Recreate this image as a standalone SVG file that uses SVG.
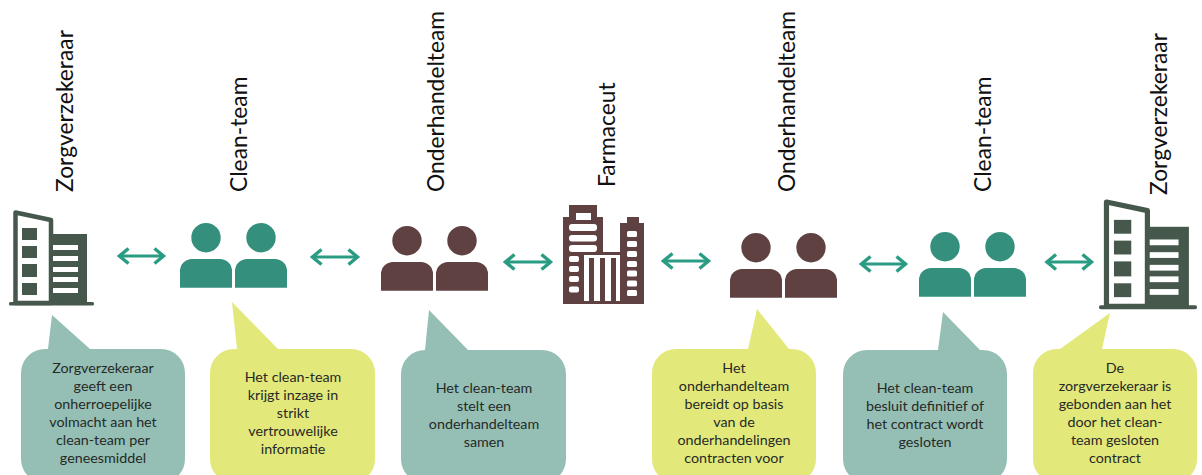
<svg xmlns="http://www.w3.org/2000/svg" xmlns:xlink="http://www.w3.org/1999/xlink" width="1202" height="475" viewBox="0 0 1202 475">
<style>
.title{font-family:"Lato","Liberation Sans",sans-serif;font-size:22.800px;fill:#111}
.txt{font-family:"Lato","Liberation Sans",sans-serif;font-size:14.300px;fill:#262a27;text-anchor:middle}
.arrow{stroke:#2a9c83;stroke-width:3.200;fill:none;marker-start:url(#head);marker-end:url(#head)}
.g{fill:#95bfb4}.y{fill:#e3e87a}.teal{fill:#34907c}.brown{fill:#5f4142}.dk{fill:#45584b}.w{fill:#fff}
</style>
<defs>
<marker id="head" viewBox="0 0 16 20" refX="13" refY="10" markerWidth="16" markerHeight="20" markerUnits="userSpaceOnUse" orient="auto-start-reverse"><path d="M4 2.500L13 10L4 17.500" fill="none" stroke="#2a9c83" stroke-width="3.400"/></marker>
<g id="people"><circle cx="26" cy="14.7" r="14.7"/><circle cx="81" cy="14.7" r="14.7"/><path d="M0 64.700V48a12 12 0 0 1 12-12H40a12 12 0 0 1 12 12V64.700Z"/><path d="M55 64.700V48a12 12 0 0 1 12-12H95a12 12 0 0 1 12 12V64.700Z"/></g>
<g id="office">
<rect class="dk" x="50" y="234" width="37" height="70"/>
<path d="M15.500 212.500L51 220V303H15.500Z" fill="#fff" stroke="#45584b" stroke-width="4.500" stroke-linejoin="round"/>
<rect class="dk" x="9" y="302" width="85" height="3.500" rx="1.500"/>
<g class="dk"><rect x="22" y="228" width="15" height="12"/><rect x="22" y="246" width="15" height="12"/><rect x="22" y="264" width="15" height="13"/><rect x="22" y="283" width="15" height="12"/></g>
<g class="w"><rect x="53" y="245" width="25" height="5"/><rect x="53" y="256" width="25" height="5"/><rect x="53" y="267" width="25" height="5"/><rect x="53" y="277" width="25" height="5"/><rect x="53" y="288" width="25" height="5"/></g>
</g>
</defs>
<g id="connectors">
<line class="arrow" x1="119.500" y1="256" x2="163.500" y2="256"/>
<line class="arrow" x1="312.500" y1="257" x2="357.500" y2="257"/>
<line class="arrow" x1="505.500" y1="262" x2="550.500" y2="262"/>
<line class="arrow" x1="663.500" y1="261" x2="708.500" y2="261"/>
<line class="arrow" x1="861.500" y1="264" x2="905.500" y2="264"/>
<line class="arrow" x1="1047" y1="262" x2="1091.500" y2="262"/>
</g>
<g id="node-zorgverzekeraar-1">
<use xlink:href="#office" href="#office"/>
<text class="title" transform="translate(73 192) rotate(-90)">Zorgverzekeraar</text>
<path class="g" d="M52 315L48 349H45a24 24 0 0 0-24 24V459a24 24 0 0 0 24 24H161a24 24 0 0 0 24-24V373a24 24 0 0 0-24-24H90Z"/>
<text class="txt"><tspan x="103" y="373">Zorgverzekeraar</tspan><tspan x="103" y="391">geeft een</tspan><tspan x="103" y="409">onherroepelijke</tspan><tspan x="103" y="427">volmacht aan het</tspan><tspan x="103" y="445">clean-team per</tspan><tspan x="103" y="463">geneesmiddel</tspan></text>
</g>
<g id="node-clean-team-1">
<use class="teal" xlink:href="#people" href="#people" x="180" y="223"/>
<text class="title" transform="translate(247 192) rotate(-90)">Clean-team</text>
<path class="y" d="M232 302L237 349H234a24 24 0 0 0-24 24V459a24 24 0 0 0 24 24H351a24 24 0 0 0 24-24V373a24 24 0 0 0-24-24H278Z"/>
<text class="txt"><tspan x="293" y="382">Het clean-team</tspan><tspan x="293" y="400">krijgt inzage in</tspan><tspan x="293" y="418">strikt</tspan><tspan x="293" y="436">vertrouwelijke</tspan><tspan x="293" y="454">informatie</tspan></text>
</g>
<g id="node-onderhandelteam-1">
<use class="brown" xlink:href="#people" href="#people" x="381" y="226"/>
<text class="title" transform="translate(444 192) rotate(-90)">Onderhandelteam</text>
<path class="g" d="M429 310L425 350a24 24 0 0 0-24 24V459a24 24 0 0 0 24 24H542a24 24 0 0 0 24-24V374a24 24 0 0 0-24-24H468Z"/>
<text class="txt"><tspan x="484" y="393">Het clean-team</tspan><tspan x="484" y="411">stelt een</tspan><tspan x="484" y="429">onderhandelteam</tspan><tspan x="484" y="447">samen</tspan></text>
</g>
<g id="node-farmaceut">
<path class="brown" d="M569 205H597V217H603V252H620V223H627V217H639V223H644V304H563V217H569Z"/>
<rect class="w" x="576" y="213" width="15" height="7"/>
<g class="w"><rect x="569" y="224" width="28" height="7" rx="3"/><rect x="569" y="235" width="28" height="6.500" rx="3"/><rect x="569" y="245" width="28" height="7" rx="3"/>
<rect x="569" y="256" width="10" height="6" rx="2"/><rect x="569" y="266" width="10" height="6" rx="2"/><rect x="569" y="276" width="10" height="6" rx="2"/><rect x="569" y="286.500" width="10" height="6" rx="2"/>
<rect x="627" y="231" width="10" height="6" rx="1.500"/><rect x="627" y="241" width="10" height="6" rx="1.500"/><rect x="627" y="251" width="10" height="6" rx="1.500"/><rect x="627" y="261" width="10" height="6" rx="1.500"/><rect x="627" y="270.500" width="10" height="6" rx="1.500"/><rect x="627" y="280.500" width="10" height="6" rx="1.500"/><rect x="627" y="290" width="10" height="6" rx="1.500"/>
<rect x="584" y="255" width="36" height="46"/></g>
<g class="brown"><rect x="589" y="258" width="5" height="43"/><rect x="600" y="258" width="5" height="43"/><rect x="611" y="258" width="5" height="43"/></g>
<text class="title" transform="translate(615 187) rotate(-90)">Farmaceut</text>
</g>
<g id="node-onderhandelteam-2">
<use class="brown" xlink:href="#people" href="#people" x="730" y="233"/>
<text class="title" transform="translate(795 192) rotate(-90)">Onderhandelteam</text>
<path class="y" d="M757 309L748 349H676a24 24 0 0 0-24 24V459a24 24 0 0 0 24 24H792a24 24 0 0 0 24-24V373a24 24 0 0 0-24-24H789Z"/>
<text class="txt"><tspan x="734" y="373">Het</tspan><tspan x="734" y="391">onderhandelteam</tspan><tspan x="734" y="409">bereidt op basis</tspan><tspan x="734" y="427">van de</tspan><tspan x="734" y="445">onderhandelingen</tspan><tspan x="734" y="463">contracten voor</tspan></text>
</g>
<g id="node-clean-team-2">
<use class="teal" xlink:href="#people" href="#people" x="919" y="232"/>
<text class="title" transform="translate(991 192) rotate(-90)">Clean-team</text>
<path class="g" d="M943 312L938 350H867a24 24 0 0 0-24 24V459a24 24 0 0 0 24 24H983a24 24 0 0 0 24-24V374a24 24 0 0 0-24-24H980Z"/>
<text class="txt"><tspan x="925" y="393">Het clean-team</tspan><tspan x="925" y="411">besluit definitief of</tspan><tspan x="925" y="429">het contract wordt</tspan><tspan x="925" y="447">gesloten</tspan></text>
</g>
<g id="node-zorgverzekeraar-2">
<use xlink:href="#office" href="#office" transform="translate(1088.600 -43) scale(1.153)"/>
<text class="title" transform="translate(1167 195) rotate(-90)">Zorgverzekeraar</text>
<path class="y" d="M1110 313L1102 349H1173a24 24 0 0 1 24 24V459a24 24 0 0 1-24 24H1057a24 24 0 0 1-24-24V373a24 24 0 0 1 24-24H1060Z"/>
<text class="txt"><tspan x="1115" y="373">De</tspan><tspan x="1115" y="391">zorgverzekeraar is</tspan><tspan x="1115" y="409">gebonden aan het</tspan><tspan x="1115" y="427">door het clean-</tspan><tspan x="1115" y="445">team gesloten</tspan><tspan x="1115" y="463">contract</tspan></text>
</g>
</svg>
